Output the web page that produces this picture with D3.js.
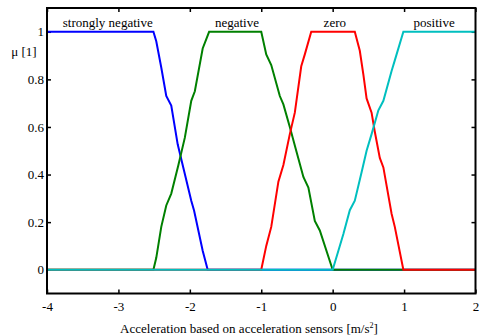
<!DOCTYPE html>
<html>
<head>
<meta charset="utf-8">
<script src="https://cdn.jsdelivr.net/npm/d3@7"></script>
<style>
  body { margin: 0; background: #fff; }
</style>
</head>
<body>
<svg width="485" height="336"></svg>
<script>
// membership functions
const stronglyNegative = [
  [-4, 1], [-2.51, 1], [-2.47, 0.96], [-2.40, 0.85], [-2.33, 0.73], [-2.26, 0.69],
  [-2.17, 0.527], [-2.08, 0.415], [-1.98, 0.29], [-1.94, 0.248], [-1.82, 0.08],
  [-1.75, 0], [2, 0]
];
const negative = [
  [-4, 0], [-2.51, 0], [-2.47, 0.05], [-2.40, 0.18], [-2.33, 0.27], [-2.26, 0.32],
  [-2.16, 0.44], [-2.07, 0.555], [-1.98, 0.71], [-1.93, 0.75], [-1.82, 0.93],
  [-1.73, 1], [-1.0, 1], [-0.93, 0.905], [-0.86, 0.86], [-0.74, 0.73], [-0.69, 0.695],
  [-0.60, 0.60], [-0.51, 0.50], [-0.41, 0.39], [-0.34, 0.345], [-0.25, 0.205],
  [-0.18, 0.165], [0, 0], [2, 0]
];
const zero = [
  [-4, 0], [-1.0, 0], [-0.93, 0.10], [-0.86, 0.18], [-0.76, 0.37], [-0.69, 0.44],
  [-0.60, 0.57], [-0.53, 0.66], [-0.44, 0.855], [-0.39, 0.905], [-0.30, 1],
  [0.31, 1], [0.38, 0.92], [0.43, 0.82], [0.475, 0.72], [0.545, 0.66], [0.59, 0.58],
  [0.66, 0.47], [0.71, 0.43], [0.825, 0.235], [0.87, 0.18], [0.99, 0], [2, 0]
];
const positive = [
  [-4, 0], [0, 0], [0.08, 0.08], [0.15, 0.15], [0.24, 0.25], [0.31, 0.29],
  [0.405, 0.41], [0.475, 0.50], [0.545, 0.57], [0.64, 0.67], [0.71, 0.71],
  [0.825, 0.835], [0.87, 0.88], [0.99, 1], [2, 1]
];

const seriesNames = ['strongly negative', 'negative', 'zero', 'positive'];
const seriesData = [stronglyNegative, negative, zero, positive];
const seriesColors = ['#0000ff', '#008000', '#ff0000', '#00bfbf'];
const labelX = [-3.15, -1.34, 0.03, 1.42];

const xTicks = [-4, -3, -2, -1, 0, 1, 2];
const yTicks = [0, 0.2, 0.4, 0.6, 0.8, 1];

const serif = '"Liberation Serif", "Times New Roman", serif';

const svg = d3.select('svg');
const m = { left: 47, right: 475.5, top: 8, bottom: 293.5 };

const x = d3.scaleLinear().domain([-4, 2]).range([m.left, m.right]);
const y = d3.scaleLinear().domain([-0.1, 1.1]).range([m.bottom, m.top]);

// inward ticks on all four sides
const tickStyle = g => {
  g.attr('font-family', null).attr('font-size', null);
  g.select('.domain').remove();
  g.selectAll('.tick line').attr('stroke', '#000').attr('stroke-width', 1.5);
  g.selectAll('.tick text').style('font-family', serif).style('font-size', '13px').attr('fill', '#000');
};

svg.append('g')
  .attr('transform', `translate(0,${m.bottom})`)
  .call(d3.axisBottom(x).tickValues(xTicks).tickSizeInner(-4).tickPadding(8).tickFormat(d => String(d)))
  .call(tickStyle);
svg.append('g')
  .attr('transform', `translate(0,${m.top})`)
  .call(d3.axisTop(x).tickValues(xTicks).tickSizeInner(-4).tickFormat(''))
  .call(tickStyle);
svg.append('g')
  .attr('transform', `translate(${m.left},0)`)
  .call(d3.axisLeft(y).tickValues(yTicks).tickSizeInner(-4).tickPadding(3).tickFormat(d => String(d)))
  .call(tickStyle);
svg.append('g')
  .attr('transform', `translate(${m.right},0)`)
  .call(d3.axisRight(y).tickValues(yTicks).tickSizeInner(-4).tickFormat(''))
  .call(tickStyle);

const line = d3.line().x(d => x(d[0])).y(d => y(d[1]));

svg.selectAll('.mf')
  .data(seriesData)
  .enter()
  .append('path')
  .attr('class', 'mf')
  .attr('d', line)
  .attr('fill', 'none')
  .attr('stroke', (d, i) => seriesColors[i])
  .attr('stroke-width', 2);

// frame
svg.append('rect')
  .attr('x', m.left).attr('y', m.top)
  .attr('width', m.right - m.left).attr('height', m.bottom - m.top)
  .attr('fill', 'none').attr('stroke', '#000').attr('stroke-width', 2);

svg.selectAll('.lbl')
  .data(seriesNames)
  .enter()
  .append('text')
  .attr('class', 'lbl')
  .attr('x', (d, i) => x(labelX[i]))
  .attr('y', 27)
  .attr('text-anchor', 'middle')
  .style('font-family', serif)
  .style('font-size', '13px')
  .text(d => d);

svg.append('text')
  .attr('x', 24).attr('y', 56)
  .attr('text-anchor', 'middle')
  .style('font-family', serif)
  .style('font-size', '13px')
  .text('\u03bc [1]');

const xl = svg.append('text')
  .attr('x', 249).attr('y', 332.5)
  .attr('text-anchor', 'middle')
  .style('font-family', serif)
  .style('font-size', '13px');
xl.append('tspan').text('Acceleration based on acceleration sensors [m/s');
xl.append('tspan').attr('dy', -5).style('font-size', '8px').text('2');
xl.append('tspan').attr('dy', 5).text(']');
</script>
</body>
</html>
